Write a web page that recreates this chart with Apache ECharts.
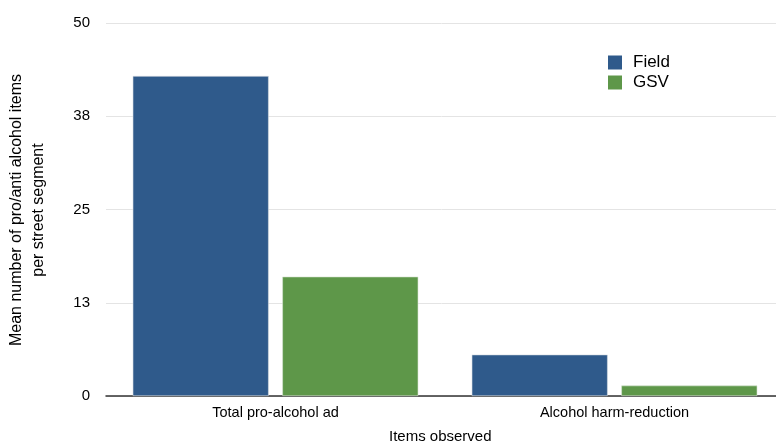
<!DOCTYPE html>
<html><head><meta charset="utf-8">
<script src="https://cdn.jsdelivr.net/npm/echarts@6/dist/echarts.min.js"></script>
<style>html,body{margin:0;padding:0;background:#fff}#c{width:776px;height:443px}</style>
</head><body><div id="c"></div>
<script>
var categories = ['Total pro-alcohol ad', 'Alcohol harm-reduction'];
var seriesNames = ['Field', 'GSV'];
var fieldValues = [42.9, 5.55];
var gsvValues = [16.0, 1.4];
var yTicks = [0, 12.5, 25, 37.5, 50];
var yTitle = 'Mean number of pro/anti alcohol items\nper street segment';
var xTitle = 'Items observed';
var FONT = '"Liberation Sans", Arial, Helvetica, sans-serif';
var chart = echarts.init(document.getElementById('c'));
chart.setOption({
  animation: false,
  textStyle: {fontFamily: FONT},
  grid: {left: 106, right: -8, top: 23, bottom: 47, containLabel: false, outerBoundsMode: 'none'},
  legend: {
    data: seriesNames, orient: 'vertical', left: 608, top: 54, icon: 'rect', padding: 0,
    itemWidth: 14, itemHeight: 14, itemGap: 3,
    itemStyle: {borderWidth: 0},
    textStyle: {fontSize: 17, color: '#000', fontFamily: FONT, padding: [0, 0, 0, 6]}
  },
  xAxis: {
    type: 'category', data: categories,
    axisLine: {lineStyle: {color: '#333', width: 1.5}},
    axisTick: {show: false},
    axisLabel: {fontSize: 14.5, color: '#000', margin: 9, fontFamily: FONT}
  },
  yAxis: {
    type: 'value', min: yTicks[0], max: yTicks[yTicks.length - 1], interval: yTicks[1] - yTicks[0],
    axisLine: {show: false}, axisTick: {show: false},
    axisLabel: {fontSize: 15, color: '#000', margin: 16, fontFamily: FONT,
      formatter: function (v) { return String(Math.round(v)); }},
    splitLine: {lineStyle: {color: '#e4e4e4', width: 1}}
  },
  graphic: [{
    type: 'text', left: 389, top: 429,
    style: {text: xTitle, fontSize: 15, fill: '#000', fontFamily: FONT}
  }, {
    type: 'text', x: 28, y: 210, rotation: Math.PI / 2,
    style: {text: yTitle, fontSize: 16, lineHeight: 22, fill: '#000', fontFamily: FONT,
      align: 'center', verticalAlign: 'middle'}
  }],
  series: [
    {name: seriesNames[0], type: 'bar', data: fieldValues, barWidth: 136, barGap: '10%',
     itemStyle: {color: '#2F5A8B', borderColor: '#d8dde4', borderWidth: 0.6}},
    {name: seriesNames[1], type: 'bar', data: gsvValues, barWidth: 136,
     itemStyle: {color: '#5E9749', borderColor: '#d8e4d4', borderWidth: 0.6}}
  ]
});
</script></body></html>
